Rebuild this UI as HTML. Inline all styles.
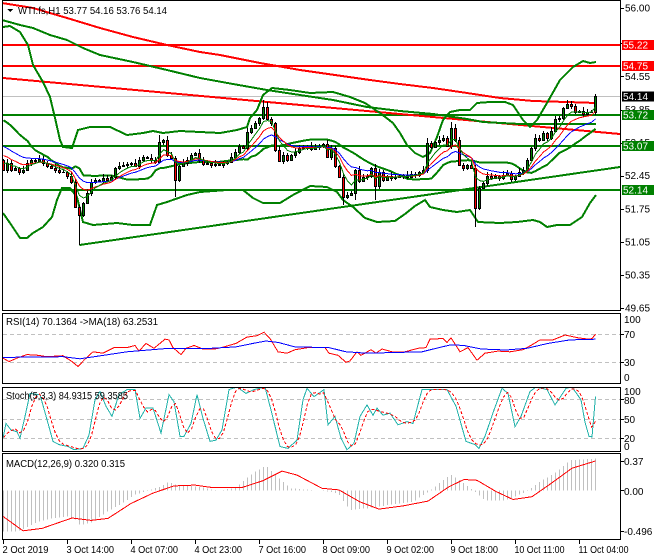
<!DOCTYPE html>
<html><head><meta charset="utf-8">
<style>
html,body{margin:0;padding:0;background:#fff;}
svg{display:block;}
text{font-family:"Liberation Sans",sans-serif;font-size:10px;fill:#000;}
</style></head>
<body>
<svg id="c" width="660" height="560" xmlns="http://www.w3.org/2000/svg" shape-rendering="crispEdges">
<defs>
<clipPath id="mc"><rect x="3" y="1" width="617" height="309"/></clipPath>
<clipPath id="rc"><rect x="3" y="314" width="617" height="69"/></clipPath>
<clipPath id="sc"><rect x="3" y="388" width="617" height="63"/></clipPath>
<clipPath id="dc"><rect x="3" y="454" width="617" height="85"/></clipPath>
</defs>
<rect x="0" y="0" width="660" height="560" fill="#fff"/>
<g id="dyn"></g>
</svg>
<script>
(function(){
var s='';
function f(n){return (+n).toFixed(1);}
function pl(pts,col,w,extra){s+='<polyline fill="none" stroke="'+col+'" stroke-width="'+w+'" '+(extra||'')+' points="'+pts.map(function(p){return f(p[0])+','+f(p[1]);}).join(' ')+'"/>';}
function ln(x1,y1,x2,y2,col,w,extra){s+='<line x1="'+x1+'" y1="'+y1+'" x2="'+x2+'" y2="'+y2+'" stroke="'+col+'" stroke-width="'+w+'" '+(extra||'')+'/>';}
function tx(x,y,t,extra){s+='<text x="'+x+'" y="'+y+'" '+(extra||'')+'>'+t+'</text>';}
function ip(kp,x){if(x<=kp[0][0])return kp[0][1];for(var i=1;i<kp.length;i++){if(x<=kp[i][0]){var a=kp[i-1],b=kp[i];return a[1]+(b[1]-a[1])*(x-a[0])/(b[0]-a[0]);}}return kp[kp.length-1][1];}
function bx(i){return 3.5+4*i;}

var C=[170,163,170,168,172,170,163,160,161,159,
163,166,168,170,172,172,176,182,207,215,
203,193,182,180,181,178,180,177,168,166,
165,164,163,166,160,157,158,160,162,142,
140,155,158,180,166,163,160,155,153,160,
164,163,165,164,165,163,162,157,152,146,
148,132,128,123,118,107,119,123,150,161,
155,160,155,152,148,147,146,149,147,146,
144,157,148,166,177,197,195,193,170,181,
177,176,168,186,172,180,176,178,177,176,
175,177,174,175,172,170,143,147,142,140,
138,146,128,140,165,168,165,168,208,188,
183,176,178,176,178,175,173,179,176,172,
170,160,148,138,140,133,138,131,119,118,
108,104,106,112,111,114,112,112,96];
var N=C.length;

/* ===== MAIN CHART ===== */
s+='<g clip-path="url(#mc)">';
// current price line
ln(3,96.5,620,96.5,'#c0c0c0',1);
// horizontal levels
ln(3,45,620,45,'#ff0000',2);
ln(3,66,620,66,'#ff0000',2);
ln(3,115,620,115,'#008000',2);
ln(3,146,620,146,'#008000',2);
ln(3,190,620,190,'#008000',2);
// trendlines
ln(3,78,620,134,'#ff0000',2);
ln(79.5,245,620,167,'#008000',2);
// long MAs
pl([[2,3],[33,8],[67,18],[100,28],[133,37],[167,45],[200,52],[220,55],[260,63],[300,70],[370,80],[400,84],[433,88],[467,93],[500,98],[533,101],[567,102],[596,103]],'#ff0000',2);
pl([[2,20],[20,25],[33,28],[50,35],[67,40],[83,48],[100,55],[133,62],[167,70],[200,78],[233,84],[267,90],[300,95],[333,100],[367,107],[400,111],[433,114],[467,119],[483,122],[520,124],[596,124]],'#008000',2);
// Bollinger
var U=[[3,27],[10,26],[20,32],[28,45],[33,65],[43,82],[50,97],[55,118],[60,140],[63,147],[72,148],[78,130],[90,127],[110,127],[127,135],[143,133],[153,131],[163,133],[180,131],[200,132],[220,133],[237,130],[247,127],[250,118],[257,110],[263,95],[272,88],[290,90],[310,93],[333,92],[350,97],[365,103],[380,113],[393,123],[400,133],[407,145],[415,153],[423,157],[430,153],[437,137],[443,120],[450,112],[460,110],[470,110],[477,103],[490,102],[505,102],[513,105],[523,120],[530,127],[537,120],[547,103],[560,80],[573,67],[583,61],[590,63],[596,62]];
var Lw=[[3,213],[10,223],[20,238],[27,238],[33,233],[43,227],[52,217],[57,200],[62,188],[70,188],[77,197],[83,222],[93,225],[117,223],[133,225],[150,225],[157,205],[167,202],[187,195],[200,192],[227,190],[243,190],[253,198],[263,203],[280,203],[293,195],[310,186],[327,187],[337,192],[343,200],[353,207],[365,218],[377,222],[395,221],[405,214],[415,206],[425,200],[430,207],[443,210],[457,212],[470,210],[478,222],[500,223],[517,222],[533,220],[540,222],[547,227],[557,225],[570,225],[582,217],[590,203],[596,195]];
pl(U,'#008000',2);
pl(Lw,'#008000',2);
var M=[];for(var i=0;i<N;i++){var x=bx(i);M.push([x,(ip(U,x)+ip(Lw,x))/2]);}
pl(M,'#008000',2);
// candles
var O=[],H=[],L=[];
for(var i=0;i<N;i++){O[i]=i?C[i-1]:160;var t=Math.min(O[i],C[i]),b=Math.max(O[i],C[i]);H[i]=t-(1+(i*7)%4);L[i]=b+(1+(i*5)%3);}
L[19]=245;L[43]=197;L[118]=227;L[85]=205;H[65]=100;H[66]=102;H[39]=135;H[106]=138;H[112]=122;H[141]=100;H[148]=94;L[93]=200;L[88]=200;
for(var i=0;i<N;i++){
 var x=bx(i);
 ln(x,H[i],x,L[i],'#000',1);
 var t=Math.min(O[i],C[i]),h=Math.abs(O[i]-C[i]);
 if(h<1){ln(x-1.5,t+0.5,x+1.5,t+0.5,'#000',1);}
 else{var col=C[i]<O[i]?'#008000':'#ff0000';s+='<rect x="'+(x-1)+'" y="'+(t+0.5)+'" width="2" height="'+h+'" fill="'+col+'" stroke="#000" stroke-width="1"/>';}
}
// small EMAs
var g=160,r=152,bl=143,G=[],R=[],B=[];
for(var i=0;i<N;i++){g+=(C[i]-g)*2/6;r+=(C[i]-r)*2/10;bl+=(C[i]-bl)*2/16;G.push([bx(i),g]);R.push([bx(i),r]);B.push([bx(i),bl]);}
pl(B,'#0000ff',1);pl(R,'#ff0000',1);pl(G,'#008000',1);
s+='</g>';
// title
s+='<polygon points="7,9 13,9 10,12" fill="#000"/>';
tx(18,14,'WTI.fs,H1 53.77 54.16 53.76 54.14','textLength="149" lengthAdjust="spacingAndGlyphs"');

/* ===== RSI ===== */
function ry(v){return 383.3-0.7*v;}
ln(3,334.5,620,334.5,'#c0c0c0',1,'stroke-dasharray="4,3"');
ln(3,362.5,620,362.5,'#c0c0c0',1,'stroke-dasharray="4,3"');
var rsi=[[3,36],[9,31],[17,36],[27,41],[38,40],[47,38],[63,39.5],[72,31],[78,24],[84,33],[93,45],[103,43],[114,51],[127,51],[135,54],[139,46],[146,57],[154,50],[165,63],[169,62],[173,51],[181,41],[186,50],[194,54],[203,49],[215,49],[224,52],[236,57],[247,66],[257,68],[264,73],[270,64],[278,45],[287,43],[295,48],[308,51],[325,51],[329,43],[338,40],[346,30],[350,32],[357,45],[361,40],[371,48],[376,43],[382,49],[392,45],[405,45],[418,50],[426,51],[430,63],[443,64],[447,58.5],[451,65],[460,45],[468,51],[477,33],[485,43],[498,46],[510,45],[523,48],[532,55],[540,62],[553,62],[565,69],[578,65],[589,63],[592,64],[595.5,70]];
var rma=[[3,37],[63,38],[80,35],[101,39.5],[127,45],[169,50],[211,50],[236,52],[253,57],[266,60.5],[278,58.5],[295,52],[329,51],[346,45],[367,43],[422,45],[439,51],[451,55],[464,54],[481,49],[506,47.6],[527,50],[548,57],[570,62],[595.5,63]];
s+='<g clip-path="url(#rc)">';
pl(rsi.map(function(p){return [p[0],ry(p[1])];}),'#ff0000',1);
pl(rma.map(function(p){return [p[0],ry(p[1])];}),'#0000ff',1);
s+='</g>';
tx(6,325,'RSI(14) 70.1364 -&gt;MA(18) 63.2531','textLength="152" lengthAdjust="spacingAndGlyphs"');

/* ===== STOCH ===== */
function sy(v){return 451-0.64*v;}
ln(3,399.5,620,399.5,'#c0c0c0',1,'stroke-dasharray="4,3"');
ln(3,419.5,620,419.5,'#c0c0c0',1,'stroke-dasharray="4,3"');
ln(3,438.5,620,438.5,'#c0c0c0',1,'stroke-dasharray="4,3"');
var K=[[3,20],[6,43],[11,33],[17,30],[20,20],[25,54],[30,90],[40,88],[47,49],[53,15],[59,10],[68,7],[74,2],[83,4],[89,25],[95,80],[100,93],[106,70],[112,54],[119,88],[127,96],[135,96],[140,51],[146,67],[153,67],[161,28],[169,88],[174,77],[180,23],[184,23],[191,43],[197,88],[203,51],[210,15],[216,17],[222,33],[229,96],[237,100],[246,90],[254,96],[265,100],[271,64],[280,7],[288,4],[297,17],[303,80],[307,98],[314,85],[324,96],[328,41],[335,54],[341,20],[347,2],[354,12],[360,54],[367,72],[373,56],[377,67],[383,56],[390,59],[398,41],[407,46],[413,43],[422,96],[428,96],[447,96],[456,70],[466,15],[475,10],[479,4],[485,23],[494,64],[502,98],[508,90],[515,38],[521,54],[530,93],[536,100],[547,96],[555,72],[566,98],[572,100],[581,80],[585,45],[589,23],[592,22],[595.5,85]];
var D=[];for(var i=0;i<N;i++){var x=bx(i);D.push([x,sy((ip(K,x)+ip(K,x-4)+ip(K,x-8))/3)]);}
s+='<g clip-path="url(#sc)">';
pl(K.map(function(p){return [p[0],sy(p[1])];}),'#20b2aa',1);
pl(D,'#ff0000',1,'stroke-dasharray="3,2"');
s+='</g>';
tx(6,399,'Stoch(5,3,3) 84.9315 59.3585','textLength="122" lengthAdjust="spacingAndGlyphs"');

/* ===== MACD ===== */
function my(v){return 490.7-80.2*v;}
var hist=[[3,-0.51],[17,-0.51],[25,-0.47],[38,-0.39],[51,-0.345],[68,-0.32],[76,-0.36],[80,-0.43],[93,-0.39],[105,-0.28],[122,-0.16],[135,-0.05],[148,0],[160,0.05],[169,0.11],[177,0.07],[198,0.05],[219,0],[236,0.04],[253,0.22],[266,0.31],[278,0.17],[291,0.03],[321,0],[338,-0.03],[350,-0.24],[367,-0.22],[388,-0.18],[413,-0.14],[430,0],[439,0.09],[451,0.2],[460,0.13],[477,-0.03],[485,-0.12],[506,-0.12],[527,-0.01],[540,0.11],[557,0.24],[570,0.38],[595.5,0.40]];
var sig=[[3,-0.32],[23,-0.50],[42,-0.47],[72,-0.34],[91,-0.37],[108,-0.345],[131,-0.16],[153,-0.03],[174,0.06],[195,0.07],[212,0.04],[242,0.04],[263,0.125],[282,0.245],[297,0.195],[322,0.03],[339,0.01],[360,-0.14],[379,-0.23],[403,-0.19],[428,-0.13],[449,0.05],[464,0.14],[477,0.13],[496,-0.01],[513,-0.11],[532,-0.075],[551,0.09],[572,0.28],[595.5,0.37]];
s+='<g clip-path="url(#dc)">';
for(var i=0;i<N;i++){var x=bx(i),v=ip(hist,x);ln(x,my(0),x,my(v),'#c0c0c0',1);}
pl(sig.map(function(p){return [p[0],my(p[1])];}),'#ff0000',1);
s+='</g>';
tx(6,467,'MACD(12,26,9) 0.320 0.315','textLength="119" lengthAdjust="spacingAndGlyphs"');

/* ===== FRAMES ===== */
s+='<rect x="2.5" y="0.5" width="618" height="310" fill="none" stroke="#000" stroke-width="1"/>';
s+='<rect x="2.5" y="313.5" width="618" height="70" fill="none" stroke="#000" stroke-width="1"/>';
s+='<rect x="2.5" y="387.5" width="618" height="64" fill="none" stroke="#000" stroke-width="1"/>';
s+='<rect x="2.5" y="453.5" width="618" height="86" fill="none" stroke="#000" stroke-width="1"/>';

/* ===== RIGHT AXIS MAIN ===== */
function py(p){return 8+(56-p)*47.24;}
var labs=['56.00','55.25','54.55','53.85','53.15','52.45','51.75','51.05','50.35','49.65'];
labs.forEach(function(l){var y=py(+l);ln(620,Math.round(y)+0.5,624,Math.round(y)+0.5,'#000',1);tx(625,(y+3.5).toFixed(1),l);});
var boxes=[['55.22','#ff0000',45],['54.75','#ff0000',66],['54.14','#000000',96.5],['53.72','#008000',115],['53.07','#008000',146],['52.14','#008000',190]];
boxes.forEach(function(b){s+='<rect x="622" y="'+(b[2]-5)+'" width="32" height="10" fill="'+b[1]+'"/>';tx(623,(b[2]+3.6).toFixed(1),b[0],'style="fill:#fff"');});

/* ===== RIGHT AXIS INDICATORS ===== */
[['100',323],['70',338],['30',366],['0',381]].forEach(function(a){tx(624,a[1],a[0]);});
[[334.5],[362.5]].forEach(function(a){ln(620,a[0],624,a[0],'#000',1);});
[['100',395],['80',404],['50',423],['20',442],['0',450]].forEach(function(a){tx(624,a[1],a[0]);});
[399.5,419.5,438.5].forEach(function(y){ln(620,y,624,y,'#000',1);});
[['0.37',465],['0.00',495],['-0.496',535]].forEach(function(a){tx(624,a[1],a[0]);});
[461.5,490.5,531.5].forEach(function(y){ln(620,y,624,y,'#000',1);});

/* ===== TIME AXIS ===== */
var tl=[['2 Oct 2019',46],['3 Oct 14:00',47.5],['4 Oct 07:00',47.5],['4 Oct 23:00',47.5],['7 Oct 16:00',47.5],['8 Oct 09:00',47.5],['9 Oct 02:00',47.5],['9 Oct 18:00',47.5],['10 Oct 11:00',50],['11 Oct 04:00',50]];
tl.forEach(function(a,k){var x=3.5+64*k;ln(x,539.5,x,544,'#000',1);tx((x-1).toFixed(1),553,a[0],'textLength="'+a[1]+'" lengthAdjust="spacingAndGlyphs"');});

document.getElementById('dyn').innerHTML=s;
})();
</script>
</body></html>
